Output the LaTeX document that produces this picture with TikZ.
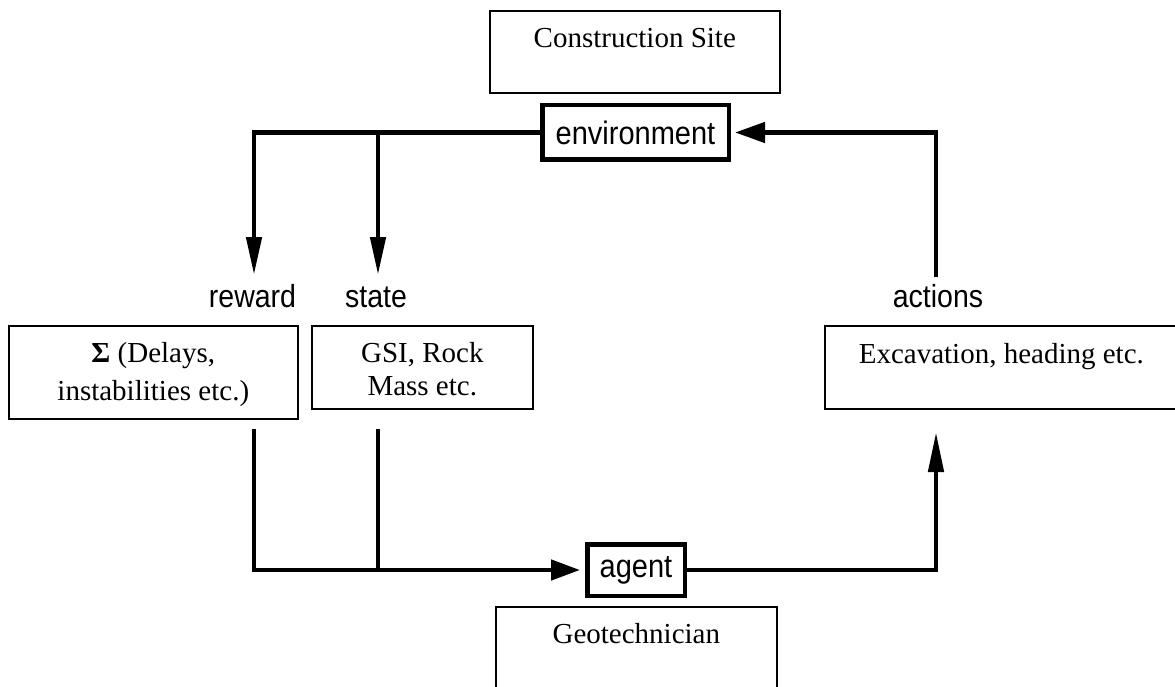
\documentclass[tikz,border=0pt]{standalone}
\usepackage{fontspec}
\setmainfont{Liberation Serif}
\newfontfamily\lsans{Liberation Sans}
\usetikzlibrary{arrows.meta}
\begin{document}
\begin{tikzpicture}[x=1pt,y=-1pt,
  tbox/.style={draw, line width=1.6pt, inner sep=0pt, align=center,
    anchor=north west, font=\fontsize{29pt}{38pt}\selectfont},
  rlbox/.style={draw, line width=4.5pt, inner sep=0pt,
    font=\lsans\fontsize{29pt}{34pt}\selectfont},
  lbl/.style={inner sep=0pt, anchor=base, font=\lsans\fontsize{28.5pt}{34pt}\selectfont},
  flow/.style={line width=4.6pt},
  bigtip/.style={-{Triangle[length=30pt,width=20pt]}},
  downtip/.style={-{Triangle[length=38pt,width=15pt]}},
  uptip/.style={-{Triangle[length=40pt,width=15pt]}},
  midtip/.style={-{Triangle[length=29pt,width=20pt]}}
]
\useasboundingbox (0,0) rectangle (1175,687);
\clip (0,0) rectangle (1175,687);

% text boxes
\node[tbox, minimum width=290pt, text height=37pt, text depth=45pt] (site) at (489,10) {Construction Site};
\node[tbox, minimum width=289pt, text height=75pt, text depth=18pt] (rwbox) at (8,325) {\textbf{Σ} (Delays,\\instabilities etc.)};
\node[tbox, minimum width=221pt, text height=70pt, text depth=13pt,
  font=\fontsize{29pt}{33pt}\selectfont] (stbox) at (311,325) {GSI, Rock\\Mass etc.};
\node[tbox, minimum width=353pt, text height=38pt, text depth=45pt] (acbox) at (824,325) {Excavation, heading etc.};
\node[tbox, minimum width=281pt, text height=37pt, text depth=60pt] (geo) at (495,606) {Geotechnician};

% loop boxes
\node[rlbox, minimum width=186.5pt, minimum height=54.5pt] (env) at (635.5,132.5) {\scalebox{1}[1.12]{environment}};
\node[rlbox, minimum width=97.5pt, minimum height=51.5pt] (ag) at (636,570) {\scalebox{1}[1.12]{agent}};

% labels
\node[lbl] (lrw) at (252.5,307) {\scalebox{1}[1.12]{reward}};
\node[lbl] (lst) at (376,307) {\scalebox{1}[1.12]{state}};
\node[lbl] (lac) at (938,307) {\scalebox{1}[1.12]{actions}};

% coordinates
\coordinate (rwTip) at (254,275);
\coordinate (stSplit) at (378,133);
\coordinate (stTip) at (378,275);
\coordinate (acTop) at (936,277);
\coordinate (rwBot) at (254,429);
\coordinate (stBot) at (378,429);
\coordinate (stJoin) at (378,570);
\coordinate (acTip) at (936,432);

% connectors
\draw[flow, downtip] (env.west) -| (rwTip);
\draw[flow, downtip] (stSplit) -- (stTip);
\draw[flow, bigtip, shorten >=4pt] (acTop) |- (env.east);
\draw[flow, midtip, shorten >=5pt] (rwBot) |- (ag.west);
\draw[flow] (stBot) -- (stJoin);
\draw[flow, uptip] (ag.east) -| (acTip);
\end{tikzpicture}
\end{document}
